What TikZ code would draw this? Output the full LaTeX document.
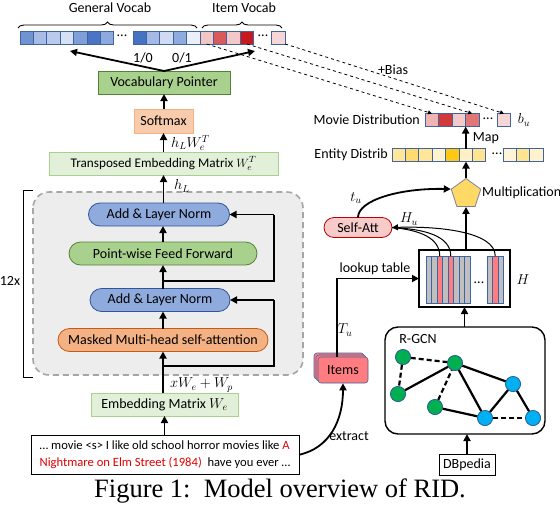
\documentclass[tikz,border=0pt]{standalone}
\usepackage{fontspec}
\setmainfont{Carlito}
\newfontfamily\capfont{Liberation Serif}
\usetikzlibrary{arrows.meta,shapes.geometric,decorations.pathreplacing}
\definecolor{celledge}{HTML}{41649E}
\definecolor{bA}{HTML}{7093D3}\definecolor{bB}{HTML}{A7BCE6}\definecolor{bC}{HTML}{B9CAEC}
\definecolor{bD}{HTML}{D6E0F4}\definecolor{bE}{HTML}{7F9FDA}\definecolor{bF}{HTML}{4A74C6}
\definecolor{bG}{HTML}{8DAAE0}\definecolor{bH}{HTML}{4672C4}\definecolor{bI}{HTML}{A4B9E5}
\definecolor{bJ}{HTML}{CFDBF2}\definecolor{bK}{HTML}{8FAADF}\definecolor{bL}{HTML}{EAF0F9}
\definecolor{rA}{HTML}{F3C6C6}\definecolor{rB}{HTML}{D85A5C}\definecolor{rC}{HTML}{F2C8C8}
\definecolor{rD}{HTML}{C8191E}\definecolor{rE}{HTML}{F6D6D6}
\definecolor{mA}{HTML}{EFB5B5}\definecolor{mB}{HTML}{D23A3A}\definecolor{mC}{HTML}{F3C8C8}
\definecolor{mD}{HTML}{E07676}
\definecolor{yA}{HTML}{FFE699}\definecolor{yB}{HTML}{FFDB70}\definecolor{yC}{HTML}{FFE699}
\definecolor{yD}{HTML}{FFF2CC}\definecolor{yE}{HTML}{FFC814}\definecolor{yF}{HTML}{FFF0C8}
\definecolor{yG}{HTML}{FFE48F}\definecolor{yH}{HTML}{FFF4D6}\definecolor{yI}{HTML}{FFE48F}
\definecolor{yJ}{HTML}{FFF2CC}
\definecolor{greenfill}{HTML}{A9D18E}\definecolor{greenedge}{HTML}{548235}
\definecolor{lgreenfill}{HTML}{E2F0D9}\definecolor{lgreenedge}{HTML}{A9D18E}
\definecolor{orfill}{HTML}{F8CBAD}\definecolor{oredge}{HTML}{F4B183}
\definecolor{or2fill}{HTML}{F4B183}\definecolor{or2edge}{HTML}{C55A11}
\definecolor{bluefill}{HTML}{8FAADC}\definecolor{blueedge}{HTML}{2F5597}
\definecolor{grayfill}{HTML}{EDEDED}\definecolor{grayedge}{HTML}{A6A6A6}
\definecolor{pinkfill}{HTML}{F8CBCB}\definecolor{pinkedge}{HTML}{C00000}
\definecolor{itemfill}{HTML}{FF7C80}\definecolor{stripegray}{HTML}{BFBFBF}
\definecolor{gnode}{HTML}{00B050}\definecolor{bnode}{HTML}{00B0F0}
\definecolor{pentfill}{HTML}{FFD966}\definecolor{pentedge}{HTML}{7F7F9F}
\definecolor{txtred}{HTML}{E00000}
\tikzset{
  cell/.style={draw=celledge, line width=0.8pt, minimum width=13.4pt, minimum height=13pt, inner sep=0pt, outer sep=0pt},
  arr/.style={line width=1.8pt, -{Triangle[length=7pt,width=7pt]}},
  sqbox/.style={draw, line width=0.8pt, inner sep=0pt, outer sep=0pt},
  pill/.style={draw, line width=0.8pt, rounded corners=11.5pt, minimum height=23pt, inner sep=0pt, outer sep=0pt},
  gnd/.style={circle, draw=blueedge, line width=0.6pt, fill=gnode, minimum size=15pt, inner sep=0pt},
  bnd/.style={circle, draw=blueedge, line width=0.6pt, fill=bnode, minimum size=15pt, inner sep=0pt},
  edge/.style={line width=2.2pt},
  dedge/.style={line width=2.2pt, dash pattern=on 5pt off 3pt},
  stripe/.style={draw=celledge, line width=0.6pt},
  itembox/.style={draw=celledge, line width=0.6pt, fill=itemfill, rounded corners=3pt, minimum width=50pt, minimum height=26pt, inner sep=0pt},
  lbl/.style={inner sep=0pt},
  mlbl/.style={inner sep=0pt, font=\fontsize{14}{16}\selectfont},
}
\begin{document}
\begin{tikzpicture}[x=1pt,y=-1pt,font=\fontsize{14}{16}\selectfont]
\useasboundingbox (0,0) rectangle (560,512);
% top vocab
\foreach \c [count=\i] in {bA,bB,bC,bD,bE,bF,bG}
  \node[cell,fill=\c] (gv\i) at ({26.7+13.4*(\i-1)},37.5) {};
\node[lbl] (gdots) at (122,36) {...};
\foreach \c [count=\i] in {bH,bI,bJ,bK,bL}
  \node[cell,fill=\c] (gw\i) at ({139.7+13.4*(\i-1)},37.5) {};
\foreach \c [count=\i] in {rA,rB,rC,rD}
  \node[cell,fill=\c] (iv\i) at ({206.7+13.4*(\i-1)},37.5) {};
\node[lbl] (idots) at (263,36) {...};
\node[cell,fill=rE] (iv5) at (278.5,37.5) {};
\draw[line width=0.9pt, decorate, decoration={brace, amplitude=6pt}] (18,28) -- (197,28);
\draw[line width=0.9pt, decorate, decoration={brace, amplitude=6pt}] (202,28) -- (282,28);
\node[lbl] (gvt) at (110,8) {General Vocab};
\node[lbl] (ivt) at (244,8) {Item Vocab};
% left column
\node[sqbox, draw=greenedge, fill=greenfill, minimum width=132pt, minimum height=23pt] (vp) at (164,82.5) {Vocabulary Pointer};
\coordinate (gl) at (70,51);
\coordinate (gr) at (255,51);
\draw[arr] (vp.north) -- (gl);
\draw[arr] (vp.north) -- (gr);
\node[lbl] (l10) at (143,58) {1/0};
\node[lbl] (l01) at (182,58) {0/1};
\node[sqbox, draw=oredge, fill=orfill, minimum width=59pt, minimum height=24pt] (soft) at (163.5,121) {Softmax};
\draw[arr] (soft.north -| vp.north) -- (vp.south);
\node[sqbox, draw=lgreenedge, fill=lgreenfill, minimum width=229pt, minimum height=23pt, font=\fontsize{13.2}{15}\selectfont] (tem) at (163.5,163.5) {Transposed Embedding Matrix $W_e^T$};
\draw[arr] (tem.north -| soft.south) -- (soft.south);
\node[mlbl, anchor=west] (lhw) at (171,143) {$h_L W_e^T$};
% gray box
\draw[grayedge, fill=grayfill, line width=1.6pt, dash pattern=on 6pt off 4pt, rounded corners=16pt] (33,192) rectangle (303,375);
\draw[line width=1pt] (33,190) -- (23,190) -- (23,377) -- (33,377);
\node[lbl] (twelve) at (10,281) {12x};
\node[pill, draw=blueedge, fill=bluefill, minimum width=141pt] (add2) at (159,214.5) {Add \& Layer Norm};
\node[pill, draw=greenedge, fill=greenfill, minimum width=188pt] (pff) at (163,253.5) {Point-wise Feed Forward};
\node[pill, draw=blueedge, fill=bluefill, minimum width=140pt] (add1) at (160,300) {Add \& Layer Norm};
\node[pill, draw=or2edge, fill=or2fill, minimum width=210pt] (mha) at (163,340) {Masked Multi-head self-attention};
\draw[arr] (add2.north -| tem.south) -- (tem.south);
\node[mlbl, anchor=west] (lh) at (174,186) {$h_L$};
\draw[arr] (mha.north) -- (mha.north |- add1.south);
\draw[arr] (pff.south) ++(0,23.5) coordinate (p1) (p1) -- (pff.south);
\draw[arr] (pff.north) -- (pff.north |- add2.south);
\coordinate (rx) at (274,0);
\coordinate (r1) at (163,366);
\coordinate (r2) at (163,281);
\draw[line width=1.8pt] (r1) -- (r1 -| rx) -- (rx |- add1.east);
\draw[arr] (rx |- add1.east) -- (add1.east);
\draw[line width=1.8pt] (r2) -- (r2 -| rx) -- (rx |- add2.east);
\draw[arr] (rx |- add2.east) -- (add2.east);
\node[sqbox, draw=lgreenedge, fill=lgreenfill, minimum width=147pt, minimum height=23pt] (emb) at (164.5,404.5) {Embedding Matrix $W_e$};
\draw[arr] (emb.north -| mha.south) -- (mha.south);
\node[mlbl, anchor=west] (lxw) at (170,385) {$xW_e + W_p$};
\node[sqbox, draw=black, line width=1pt, minimum width=268pt, minimum height=39.5pt, align=left, font=\fontsize{12.6}{17.5}\selectfont] (txt) at (165,454.75)
  {… movie <s> I like old school horror movies like \textcolor{txtred}{A}\\\textcolor{txtred}{Nightmare on Elm Street (1984)}\ \ have you ever …};
\draw[arr] (txt.north -| emb.south) -- (emb.south);
% right side
\foreach \c [count=\i] in {mA,mB,mC,mD}
  \node[cell,fill=\c] (mv\i) at ({432+13.4*(\i-1)},120) {};
\node[lbl] (mdots) at (488,118.5) {...};
\node[cell,fill=rE] (mv5) at (504,120) {};
\node[lbl, anchor=east] (mdl) at (420,120) {Movie Distribution};
\node[mlbl] (bu) at (524,120) {$b_u$};
\draw[dashed, line width=0.8pt, -{Triangle[length=4pt,width=4pt]}] (iv1.south) -- (mv1.north);
\draw[dashed, line width=0.8pt, -{Triangle[length=4pt,width=4pt]}] (iv4.south) -- (mv4.north);
\draw[dashed, line width=0.8pt, -{Triangle[length=4pt,width=4pt]}] (iv5.south east) -- (mv5.north);
\node[lbl] (bias) at (393,70) {+Bias};
\foreach \c [count=\i] in {yA,yB,yC,yD,yE,yF,yG}
  \node[cell,fill=\c] (ev\i) at ({398.7+13.4*(\i-1)},155) {};
\node[lbl] (edots) at (497,153.5) {...};
\foreach \c [count=\i] in {yH,yI,yJ}
  \node[cell,fill=\c] (ew\i) at ({509.7+13.4*(\i-1)},155) {};
\node[lbl, anchor=east] (edl) at (388,155) {Entity Distrib};
\draw[arr] (ev6.north) -- (ev6.north |- mv3.south);
\node[lbl] (map) at (486,138) {Map};
\node[regular polygon, regular polygon sides=5, draw=pentedge, line width=0.8pt, fill=pentfill, minimum size=31pt, inner sep=0pt] (pent) at (466,194) {};
\node[lbl, anchor=west] (mult) at (482,193) {Multiplication};
\draw[arr] (pent.corner 1) -- (pent.corner 1 |- ev6.south);
\node[pill, draw=pinkedge, fill=pinkfill, minimum width=68pt, minimum height=20pt, rounded corners=10pt] (satt) at (358,227.5) {Self-Att};
\draw[arr] (satt.north) .. controls (358,200) and (400,188) .. (pent.corner 2);
\node[mlbl] (tu) at (356,198) {$t_u$};
\node[mlbl] (hu) at (409,219) {$H_u$};
% H matrix
\node[sqbox, draw=black, line width=1.2pt, minimum width=91pt, minimum height=57pt] (H) at (464.5,278.5) {};
\foreach \k in {0,...,7} {
  \pgfmathsetmacro{\xx}{426+5.5*\k}
  \ifnum\k=2 \def\sc{itemfill}\else\ifnum\k=4 \def\sc{itemfill}\else\def\sc{stripegray}\fi\fi
  \draw[stripe, fill=\sc] (\xx,256) rectangle ++(5.5,47);
}
\foreach \k in {0,1,2} {
  \pgfmathsetmacro{\xx}{487+5.5*\k}
  \ifnum\k=1 \def\sc{itemfill}\else\def\sc{stripegray}\fi
  \draw[stripe, fill=\sc] (\xx,256) rectangle ++(5.5,47);
}
\node[lbl] (hdots) at (479,283) {...};
\node[mlbl] (Hl) at (523,280) {$H$};
\coordinate (s1) at (439.75,256);
\coordinate (s2) at (450.75,256);
\coordinate (s3) at (495.25,256);
\draw[line width=1pt] (s1) .. controls (439.75,238) and (420,230) .. (satt.east);
\draw[line width=1pt] (s2) .. controls (450.75,236) and (425,229) .. (satt.east);
\draw[line width=1pt, -{Triangle[length=6pt,width=6pt]}] (s3) .. controls (495.25,232) and (440,226) .. (satt.east);
\draw[arr] (H.north -| pent.south) -- (pent.south);
% items
\node[itembox] (ib2) at (339,366) {};
\node[itembox] (ib1) at (341,368) {};
\node[itembox] (items) at (343,370) {Items};
\draw[arr] ([xshift=-6pt]items.north) |- (H.west);
\node[lbl] (lkt) at (375,269) {lookup table};
\node[mlbl] (Tu) at (345,330) {$T_u$};
\draw[arr] (txt.east) .. controls (330,448) and (343,420) .. (items.south);
\node[lbl] (ext) at (349,436) {extract};
% R-GCN
\draw[line width=1.4pt, rounded corners=13pt] (385,327) rectangle (545,434);
\coordinate (rg) at (465,434);
\node[lbl] (rgcn) at (418,339) {R-GCN};
\node[gnd] (G1) at (403,357) {};
\node[gnd] (G2) at (455,363) {};
\node[gnd] (G3) at (398,394) {};
\node[gnd] (G4) at (435,407) {};
\node[bnd] (B1) at (513,384) {};
\node[bnd] (B2) at (485,418) {};
\node[bnd] (B3) at (533,418) {};
\draw[dedge] (G1) -- (G2);
\draw[dedge] (G1) -- (G3);
\draw[edge] (G3) -- (G2);
\draw[dedge] (G4) -- (G2);
\draw[edge] (G4) -- (B2);
\draw[edge] (G2) -- (B2);
\draw[edge] (G2) -- (B1);
\draw[edge] (B1) -- (B2);
\draw[dedge] (B2) -- (B3);
\draw[edge] (B1) -- (B3);
\foreach \n in {G1,G2,G3,G4} \node[gnd] at (\n) {};
\foreach \n in {B1,B2,B3} \node[bnd] at (\n) {};
\node[sqbox, draw=black, line width=1pt, minimum width=56pt, minimum height=21pt] (db) at (467,464.5) {DBpedia};
\draw[arr] (db.north) -- (db.north |- rg);
\coordinate (rt) at (465,327);
\draw[arr] (rt -| H.south) -- (H.south);
% caption
\node[lbl, font=\capfont\fontsize{26.5}{30}\selectfont] (cap) at (280,491) {Figure 1:\ \ Model overview of RID.};
\end{tikzpicture}
\end{document}
